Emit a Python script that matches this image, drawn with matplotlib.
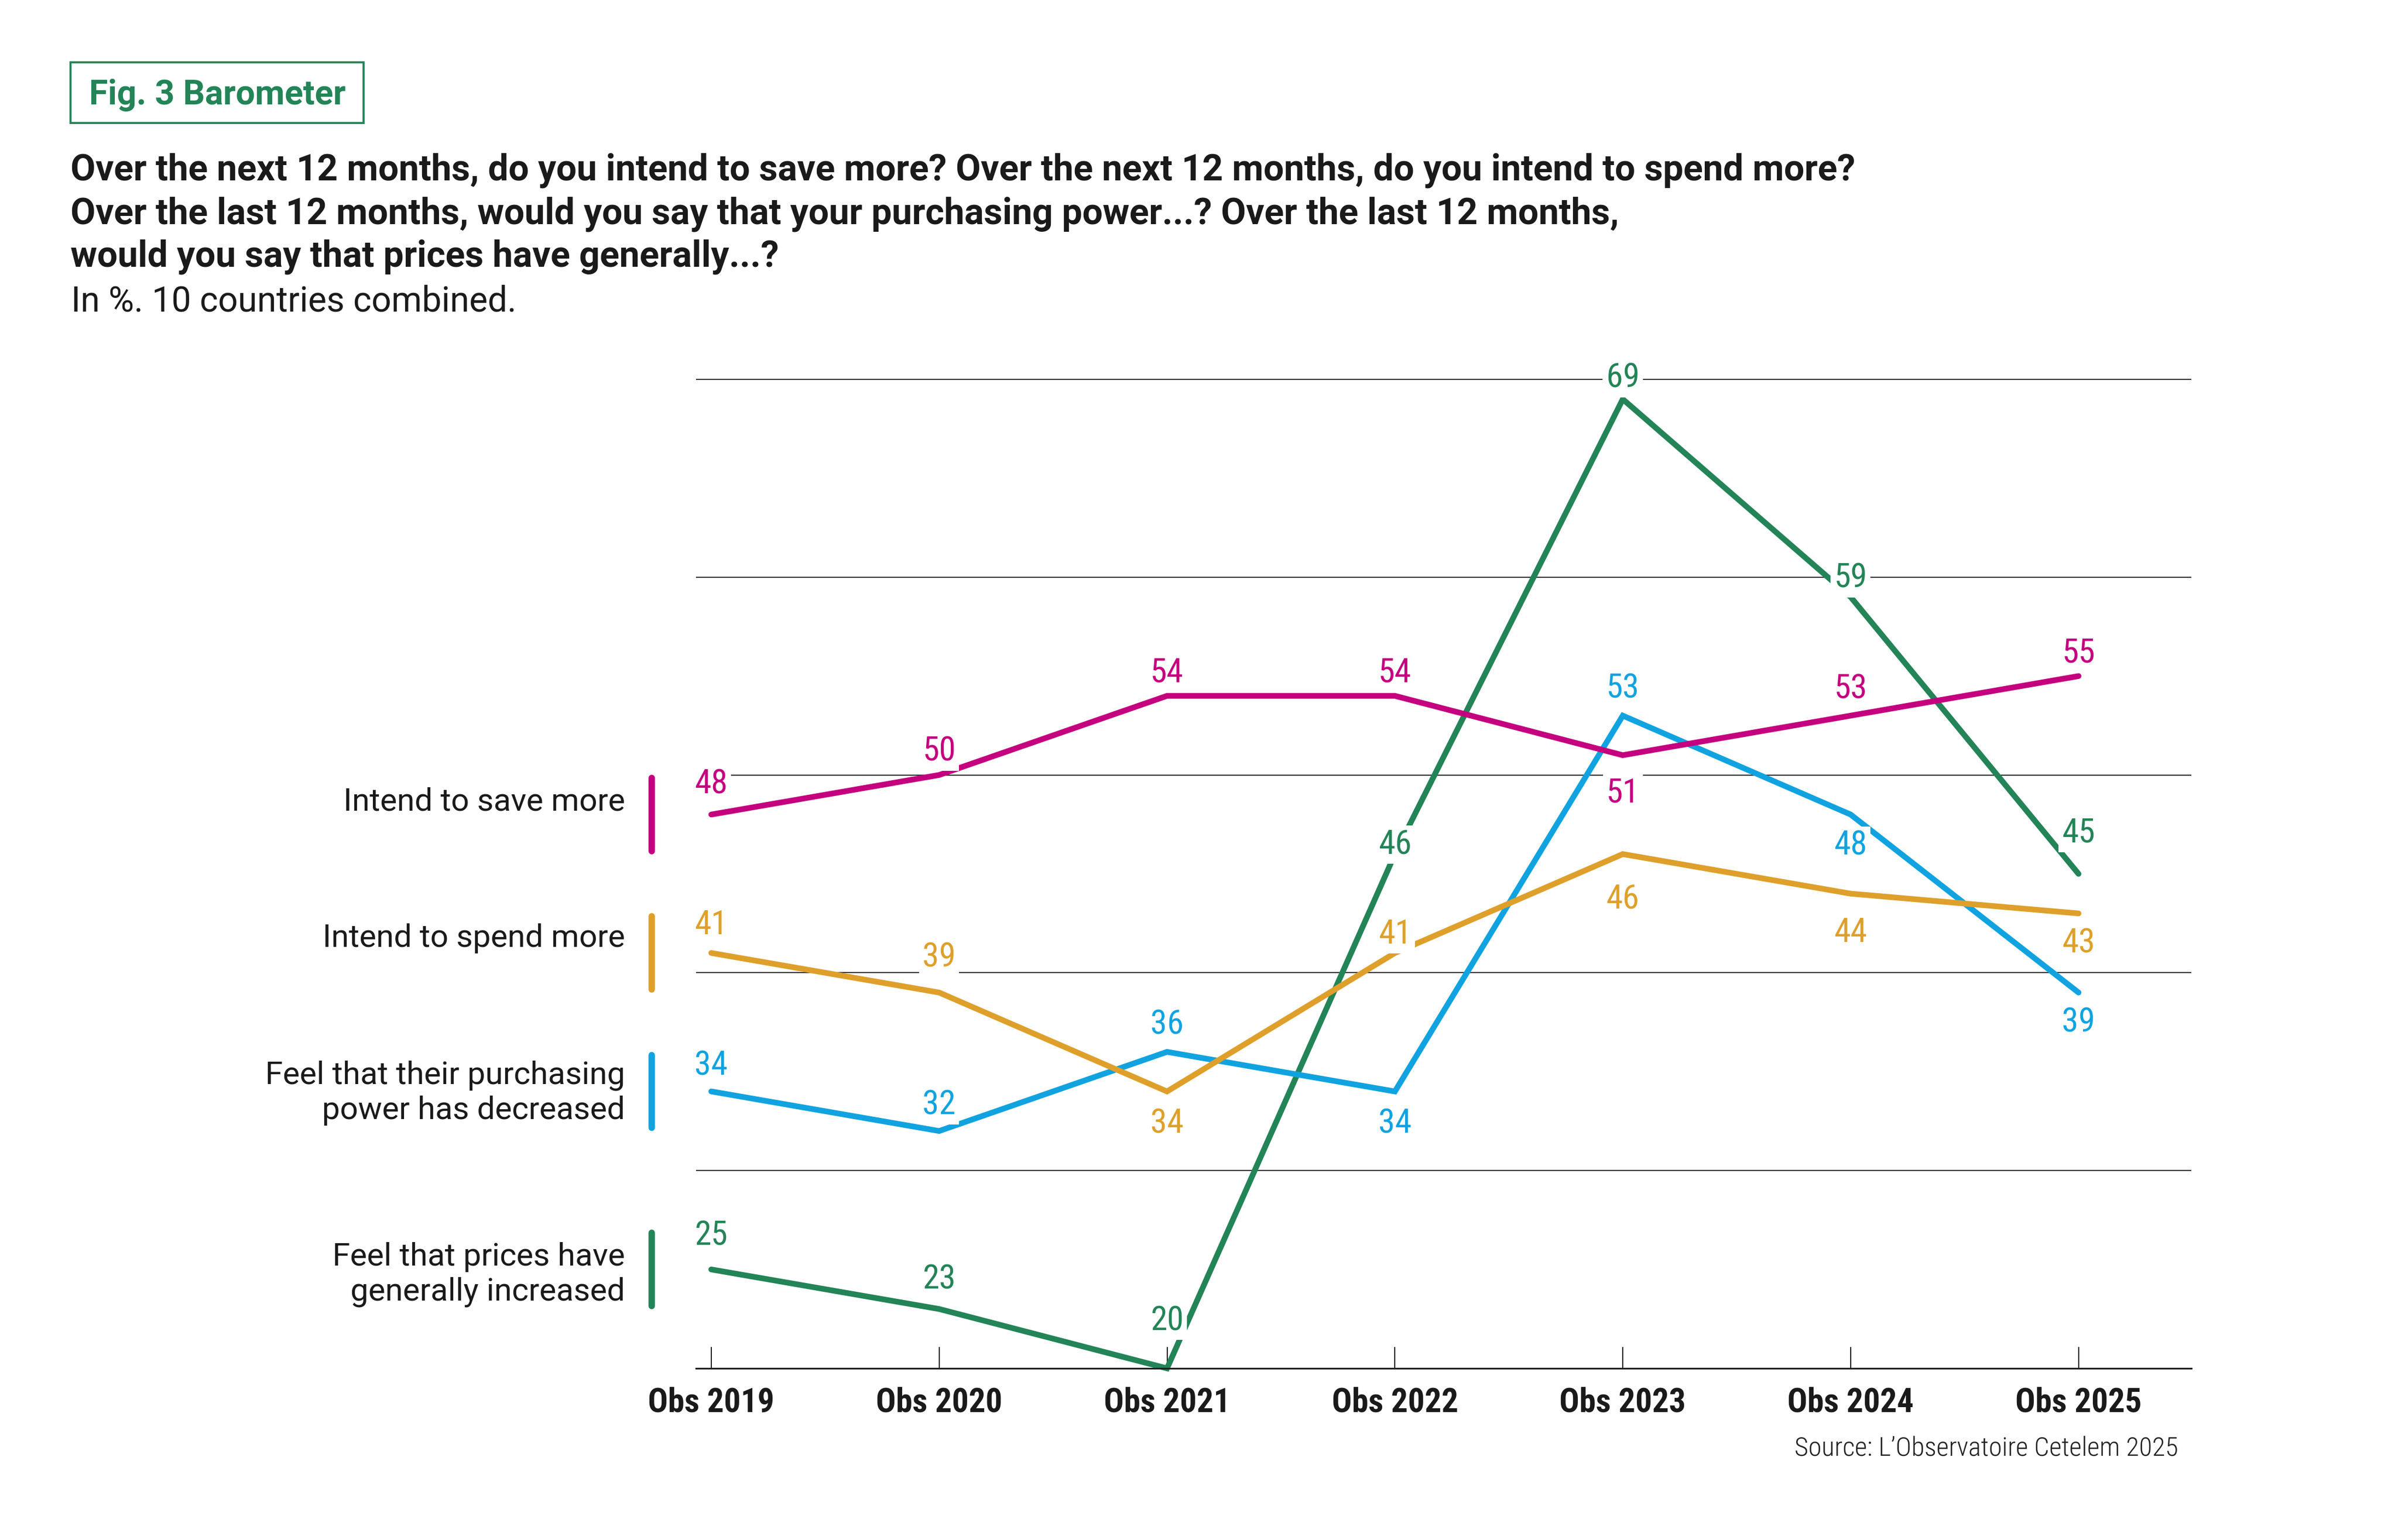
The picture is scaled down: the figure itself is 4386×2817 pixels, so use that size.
import matplotlib
matplotlib.use("Agg")
import matplotlib.pyplot as plt
import matplotlib.font_manager as fm
from matplotlib.patches import Rectangle

# narrow sans for numbers and ticks, regular-width sans for the longer texts
avail = {f.name for f in fm.fontManager.ttflist}
narrow = "Roboto"
for cand in ["Roboto Condensed", "Liberation Sans Narrow", "Roboto"]:
    if cand in avail:
        narrow = cand
        break
wide = "Roboto" if "Roboto" in avail else "DejaVu Sans"
plt.rcParams["font.family"] = [narrow, "DejaVu Sans"]

years = ["Obs 2019", "Obs 2020", "Obs 2021", "Obs 2022", "Obs 2023", "Obs 2024", "Obs 2025"]
save_more = [48, 50, 54, 54, 51, 53, 55]
spend_more = [41, 39, 34, 41, 46, 44, 43]
power_down = [34, 32, 36, 34, 53, 48, 39]
prices_up = [25, 23, 20, 46, 69, 59, 45]

series_names = ["Intend to save more", "Intend to spend more",
                "Feel that their purchasing\npower has decreased",
                "Feel that prices have\ngenerally increased"]

# vertical offsets (pt) of the value labels, centre of the digits
dy_save = [14.4, 11.5, 11.4, 11.4, -15.4, 12.8, 11.3]
dy_spend = [13.4, 16.6, -13, 9.4, -18.5, -16, -12]
dy_power = [12.5, 12.5, 13, -13, 13, -12.5, -12]
dy_prices = [16, 14, 22, 5.3, 10.4, 9.4, 19]

MAGENTA = "#c4007f"
ORANGE = "#dea02b"
BLUE = "#11a3e0"
GREEN = "#238457"
INK = "#1a1a1a"

W, H = 4386, 2817
fig = plt.figure(figsize=(W / 300, H / 300), dpi=300)


def fx(px):
    return px / W


def fy(py):
    return 1 - py / H


# axes: x 1273..4008 px, y=20 at 2503 px, 36.18 px per unit
unit = (2503 - 694) / 50
ytop = 70.5
ax = fig.add_axes([fx(1273), fy(2503), (4008 - 1273) / W, (ytop - 20) * unit / H])
ax.set_xlim(-0.067, 6.495)
ax.set_ylim(20, ytop)

ax.set_yticks([30, 40, 50, 60, 70])
ax.yaxis.grid(True, color="#333333", lw=0.5)
ax.tick_params(axis="y", length=0, labelleft=False)
ax.set_axisbelow(True)
for s in ["left", "right", "top"]:
    ax.spines[s].set_visible(False)
ax.spines["bottom"].set_linewidth(0.75)
ax.spines["bottom"].set_color("#222222")

x = list(range(len(years)))
ax.set_xticks(x)
ax.set_xticklabels(years, fontsize=14.6, fontweight="bold", color=INK)
ax.tick_params(axis="x", direction="in", length=9.4, width=0.5, color="#222222", pad=8)

series = [
    (prices_up, dy_prices, GREEN, 2),
    (power_down, dy_power, BLUE, 3),
    (spend_more, dy_spend, ORANGE, 4),
    (save_more, dy_save, MAGENTA, 5),
]

for vals, dys, col, z in series:
    ax.plot(x, vals, color=col, lw=2.5, solid_capstyle="round",
            solid_joinstyle="miter", zorder=z, clip_on=False)
    for i, v in enumerate(vals):
        ax.annotate(str(v), xy=(i, v), xytext=(0, dys[i] - 5.2), textcoords="offset points",
                    ha="center", va="baseline", fontsize=14.8, color=col, zorder=10,
                    annotation_clip=False,
                    bbox=dict(boxstyle="square,pad=0.1", fc="white", ec="none"))

# left-hand legend, centred on each series' first value
legend_series = [(save_more, MAGENTA), (spend_more, ORANGE), (power_down, BLUE), (prices_up, GREEN)]
legend_dy = [-4, -3, -2.5, -4]
for (vals, col), name, ddy in zip(legend_series, series_names, legend_dy):
    v0 = vals[0]
    ax.plot([-0.262, -0.262], [v0 - 1.85, v0 + 1.85], color=col, lw=2.8,
            solid_capstyle="round", clip_on=False)
    ax.annotate(name, xy=(-0.379, v0 + 1.85), xytext=(0, ddy), textcoords="offset points",
                ha="right", va="top", fontsize=14, color=INK, family=wide,
                linespacing=1.2, annotation_clip=False)

# header
fig.add_artist(Rectangle((fx(129), fy(225)), (665 - 129) / W, (225 - 114) / H,
                         transform=fig.transFigure, fill=False, ec=GREEN, lw=0.9))
fig.text(fx(163), fy(191), "Fig. 3 Barometer", color=GREEN, fontsize=15,
         fontweight="bold", family=wide, va="baseline")

title_lines = [
    "Over the next 12 months, do you intend to save more? Over the next 12 months, do you intend to spend more?",
    "Over the last 12 months, would you say that your purchasing power...? Over the last 12 months,",
    "would you say that prices have generally...?",
]
for line, yb in zip(title_lines, [330, 409, 487]):
    fig.text(fx(129), fy(yb), line, color=INK, fontsize=15.9, fontweight="bold",
             family=wide, va="baseline")
fig.text(fx(130), fy(570), "In %. 10 countries combined.", color=INK, fontsize=15.3,
         fontweight="normal", family=wide, va="baseline")

fig.text(fx(3984), fy(2663), "Source: L\u2019Observatoire Cetelem 2025", color="#222222",
         fontsize=11.8, fontweight="light", ha="right", va="baseline")

fig.savefig("out.png", dpi=300, facecolor="white")
